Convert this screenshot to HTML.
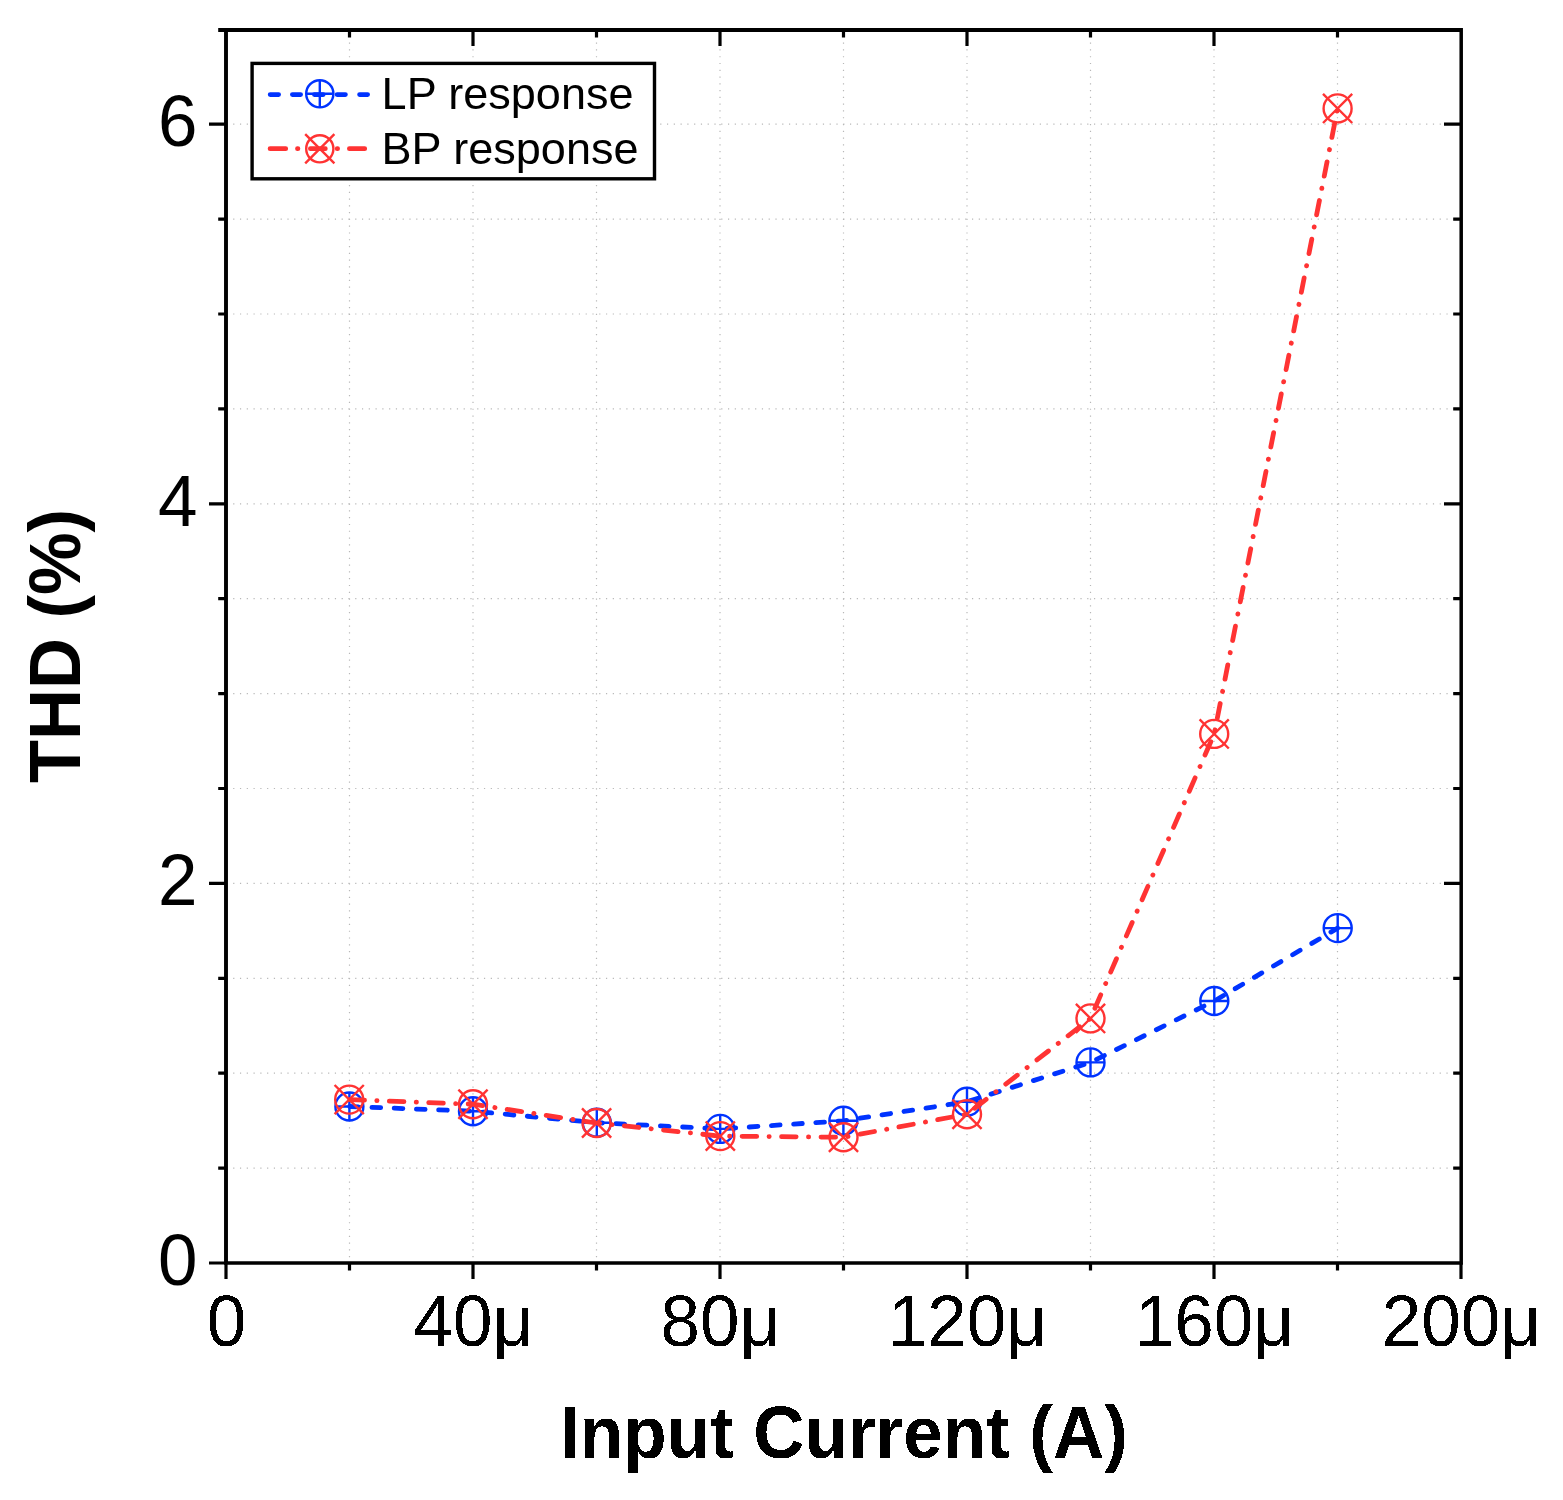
<!DOCTYPE html><html><head><meta charset="utf-8"><style>html,body{margin:0;padding:0;background:#fff;}svg{display:block;}text{font-family:"Liberation Sans",Arial,sans-serif;}</style></head><body>
<svg width="1563" height="1500" viewBox="0 0 1563 1500">
<defs><filter id="crisp" x="-5%" y="-20%" width="110%" height="140%"><feComponentTransfer><feFuncA type="discrete" tableValues="0 1"/></feComponentTransfer></filter></defs>
<rect x="0" y="0" width="1563" height="1500" fill="#fff"/>
<path d="M349.50 1263.40V32.0M473.00 1263.40V32.0M596.50 1263.40V32.0M720.00 1263.40V32.0M843.50 1263.40V32.0M967.00 1263.40V32.0M1090.50 1263.40V32.0M1214.00 1263.40V32.0M1337.50 1263.40V32.0" stroke="#b8b8b8" stroke-width="1.2" stroke-dasharray="1.2 5.579" stroke-dashoffset="0.6" fill="none"/>
<path d="M227 1168.10H1459.0M227 1073.20H1459.0M227 978.30H1459.0M227 883.40H1459.0M227 788.50H1459.0M227 693.60H1459.0M227 598.70H1459.0M227 503.80H1459.0M227 408.90H1459.0M227 314.00H1459.0M227 219.10H1459.0M227 124.20H1459.0" stroke="#b8b8b8" stroke-width="1.2" stroke-dasharray="1.2 5.578" stroke-dashoffset="0.6" fill="none"/>
<path d="M226.00 1263.0v16M349.50 1263.0v7.4M349.50 30.0v7.4M473.00 1263.0v16M473.00 30.0v16M596.50 1263.0v7.4M596.50 30.0v7.4M720.00 1263.0v16M720.00 30.0v16M843.50 1263.0v7.4M843.50 30.0v7.4M967.00 1263.0v16M967.00 30.0v16M1090.50 1263.0v7.4M1090.50 30.0v7.4M1214.00 1263.0v16M1214.00 30.0v16M1337.50 1263.0v7.4M1337.50 30.0v7.4M1461.00 1263.0v16M226.0 1263.00h-17M226.0 1168.10h-7.8M1461.0 1168.10h-7.8M226.0 1073.20h-7.8M1461.0 1073.20h-7.8M226.0 978.30h-7.8M1461.0 978.30h-7.8M226.0 883.40h-17M1461.0 883.40h-17M226.0 788.50h-7.8M1461.0 788.50h-7.8M226.0 693.60h-7.8M1461.0 693.60h-7.8M226.0 598.70h-7.8M1461.0 598.70h-7.8M226.0 503.80h-17M1461.0 503.80h-17M226.0 408.90h-7.8M1461.0 408.90h-7.8M226.0 314.00h-7.8M1461.0 314.00h-7.8M226.0 219.10h-7.8M1461.0 219.10h-7.8M226.0 124.20h-17M1461.0 124.20h-17" stroke="#000" stroke-width="3.2" fill="none"/>
<path d="M224.05 28H227.95V1264.8H224.05ZM218.2 28H1462.95V32H218.2ZM1459.45 28H1462.95V1264.8H1459.45ZM224.05 1261.2H1462.95V1264.8H224.05Z" fill="#000"/>
<path d="M349.40 1106.50 L473.00 1111.20 L596.80 1122.70 L720.20 1128.90 L843.40 1120.80 L967.00 1101.80 L1090.50 1062.40 L1214.30 1001.00 L1337.70 928.10" fill="none" stroke="#0033ff" stroke-width="4.8" stroke-linecap="round" stroke-linejoin="round" stroke-dasharray="8.7 13.54" stroke-dashoffset="-0.34"/>
<circle cx="349.40" cy="1106.50" r="14.0" fill="none" stroke="#0033ff" stroke-width="2.4"/><path d="M335.40 1106.50H363.40M349.40 1092.50V1120.50" stroke="#0033ff" stroke-width="2.4"/>
<circle cx="473.00" cy="1111.20" r="14.0" fill="none" stroke="#0033ff" stroke-width="2.4"/><path d="M459.00 1111.20H487.00M473.00 1097.20V1125.20" stroke="#0033ff" stroke-width="2.4"/>
<circle cx="596.80" cy="1122.70" r="14.0" fill="none" stroke="#0033ff" stroke-width="2.4"/><path d="M582.80 1122.70H610.80M596.80 1108.70V1136.70" stroke="#0033ff" stroke-width="2.4"/>
<circle cx="720.20" cy="1128.90" r="14.0" fill="none" stroke="#0033ff" stroke-width="2.4"/><path d="M706.20 1128.90H734.20M720.20 1114.90V1142.90" stroke="#0033ff" stroke-width="2.4"/>
<circle cx="843.40" cy="1120.80" r="14.0" fill="none" stroke="#0033ff" stroke-width="2.4"/><path d="M829.40 1120.80H857.40M843.40 1106.80V1134.80" stroke="#0033ff" stroke-width="2.4"/>
<circle cx="967.00" cy="1101.80" r="14.0" fill="none" stroke="#0033ff" stroke-width="2.4"/><path d="M953.00 1101.80H981.00M967.00 1087.80V1115.80" stroke="#0033ff" stroke-width="2.4"/>
<circle cx="1090.50" cy="1062.40" r="14.0" fill="none" stroke="#0033ff" stroke-width="2.4"/><path d="M1076.50 1062.40H1104.50M1090.50 1048.40V1076.40" stroke="#0033ff" stroke-width="2.4"/>
<circle cx="1214.30" cy="1001.00" r="14.0" fill="none" stroke="#0033ff" stroke-width="2.4"/><path d="M1200.30 1001.00H1228.30M1214.30 987.00V1015.00" stroke="#0033ff" stroke-width="2.4"/>
<circle cx="1337.70" cy="928.10" r="14.0" fill="none" stroke="#0033ff" stroke-width="2.4"/><path d="M1323.70 928.10H1351.70M1337.70 914.10V942.10" stroke="#0033ff" stroke-width="2.4"/>
<path d="M349.20 1099.60 L473.00 1104.20 L596.60 1123.00 L720.30 1136.10 L843.50 1137.30 L967.00 1114.20 L1090.50 1018.40 L1214.20 733.90 L1337.60 108.40" fill="none" stroke="#ff3333" stroke-width="4.8" stroke-linecap="round" stroke-linejoin="round" stroke-dasharray="14.6 12.32 0.2 12.32" stroke-dashoffset="-0.71"/>
<circle cx="349.20" cy="1099.60" r="14.0" fill="none" stroke="#ff3333" stroke-width="2.4"/><path d="M334.60 1085.00L363.80 1114.20M334.60 1114.20L363.80 1085.00" stroke="#ff3333" stroke-width="2.4"/>
<circle cx="473.00" cy="1104.20" r="14.0" fill="none" stroke="#ff3333" stroke-width="2.4"/><path d="M458.40 1089.60L487.60 1118.80M458.40 1118.80L487.60 1089.60" stroke="#ff3333" stroke-width="2.4"/>
<circle cx="596.60" cy="1123.00" r="14.0" fill="none" stroke="#ff3333" stroke-width="2.4"/><path d="M582.00 1108.40L611.20 1137.60M582.00 1137.60L611.20 1108.40" stroke="#ff3333" stroke-width="2.4"/>
<circle cx="720.30" cy="1136.10" r="14.0" fill="none" stroke="#ff3333" stroke-width="2.4"/><path d="M705.70 1121.50L734.90 1150.70M705.70 1150.70L734.90 1121.50" stroke="#ff3333" stroke-width="2.4"/>
<circle cx="843.50" cy="1137.30" r="14.0" fill="none" stroke="#ff3333" stroke-width="2.4"/><path d="M828.90 1122.70L858.10 1151.90M828.90 1151.90L858.10 1122.70" stroke="#ff3333" stroke-width="2.4"/>
<circle cx="967.00" cy="1114.20" r="14.0" fill="none" stroke="#ff3333" stroke-width="2.4"/><path d="M952.40 1099.60L981.60 1128.80M952.40 1128.80L981.60 1099.60" stroke="#ff3333" stroke-width="2.4"/>
<circle cx="1090.50" cy="1018.40" r="14.0" fill="none" stroke="#ff3333" stroke-width="2.4"/><path d="M1075.90 1003.80L1105.10 1033.00M1075.90 1033.00L1105.10 1003.80" stroke="#ff3333" stroke-width="2.4"/>
<circle cx="1214.20" cy="733.90" r="14.0" fill="none" stroke="#ff3333" stroke-width="2.4"/><path d="M1199.60 719.30L1228.80 748.50M1199.60 748.50L1228.80 719.30" stroke="#ff3333" stroke-width="2.4"/>
<circle cx="1337.60" cy="108.40" r="14.0" fill="none" stroke="#ff3333" stroke-width="2.4"/><path d="M1323.00 93.80L1352.20 123.00M1323.00 123.00L1352.20 93.80" stroke="#ff3333" stroke-width="2.4"/>
<text transform="translate(197.50 1284.80) scale(1 1.025)" font-size="71" text-anchor="end">0</text>
<text transform="translate(197.50 905.20) scale(1 1.025)" font-size="71" text-anchor="end">2</text>
<text transform="translate(197.50 525.60) scale(1 1.025)" font-size="71" text-anchor="end">4</text>
<text transform="translate(197.50 146.00) scale(1 1.025)" font-size="71" text-anchor="end">6</text>
<text transform="translate(226.50 1346.20) scale(1 1.025)" font-size="71" text-anchor="middle" filter="url(#crisp)">0</text>
<text transform="translate(473.50 1346.20) scale(1 1.025)" font-size="71" text-anchor="middle" filter="url(#crisp)">40μ</text>
<text transform="translate(720.50 1346.20) scale(1 1.025)" font-size="71" text-anchor="middle" filter="url(#crisp)">80μ</text>
<text transform="translate(967.50 1346.20) scale(1 1.025)" font-size="71" text-anchor="middle" filter="url(#crisp)">120μ</text>
<text transform="translate(1214.50 1346.20) scale(1 1.025)" font-size="71" text-anchor="middle" filter="url(#crisp)">160μ</text>
<text transform="translate(1461.50 1346.20) scale(1 1.025)" font-size="71" text-anchor="middle" filter="url(#crisp)">200μ</text>
<text transform="translate(844.00 1458.30) scale(1 1.04)" font-size="71" text-anchor="middle" font-weight="bold" filter="url(#crisp)">Input Current (A)</text>
<text transform="translate(80.0 646.0) rotate(-90) scale(1 1.025)" font-size="70.5" font-weight="bold" text-anchor="middle">THD (%)</text>
<rect x="252.1" y="63.4" width="402.4" height="115.4" fill="#fff" stroke="#000" stroke-width="3.4"/>
<path d="M270.2 94.6H278.6M292.4 94.6H300.6M314.4 94.6H323.2M337.1 94.6H345.4M359.6 94.6H367.6" stroke="#0033ff" stroke-width="4.8" stroke-linecap="round"/>
<circle cx="319.80" cy="93.80" r="13.6" fill="none" stroke="#0033ff" stroke-width="2.4"/><path d="M306.20 93.80H333.40M319.80 80.20V107.40" stroke="#0033ff" stroke-width="2.4"/>
<path d="M270.1 148.7H285.7M297.5 148.7H297.9M310.4 148.7H325.3M337.2 148.7H337.6M349.4 148.7H364.7" stroke="#ff3333" stroke-width="4.8" stroke-linecap="round"/>
<circle cx="319.80" cy="148.80" r="13.6" fill="none" stroke="#ff3333" stroke-width="2.4"/><path d="M305.20 134.20L334.40 163.40M305.20 163.40L334.40 134.20" stroke="#ff3333" stroke-width="2.4"/>
<text transform="translate(381.60 108.90) scale(1 1.0)" font-size="45" text-anchor="start">LP response</text>
<text transform="translate(381.60 164.40) scale(1 1.0)" font-size="45" text-anchor="start">BP response</text>
</svg></body></html>
